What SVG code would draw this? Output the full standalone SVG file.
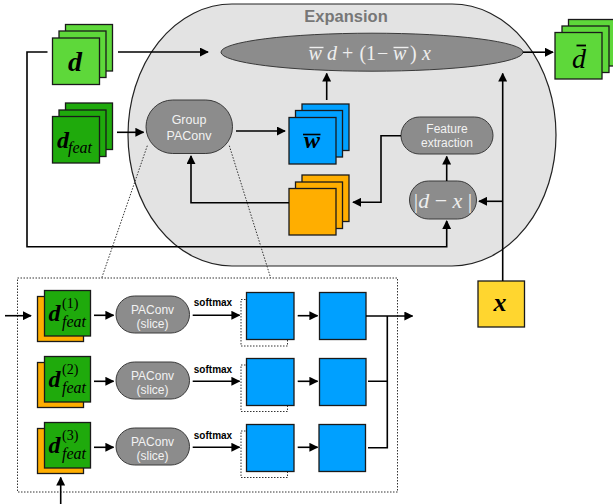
<svg xmlns="http://www.w3.org/2000/svg" width="613" height="504" viewBox="0 0 613 504">
<defs>
<marker id="ah" viewBox="0 0 10 10" refX="9" refY="5" markerWidth="9" markerHeight="9" markerUnits="userSpaceOnUse" orient="auto">
<path d="M0,0 L10,5 L0,10 z" fill="#000"/>
</marker>
<style>
.ln{fill:none;stroke:#000;stroke-width:1.6}
.dot{fill:none;stroke:#333;stroke-width:1;stroke-dasharray:1.5 1.5}
.sq{stroke:#1a1a1a;stroke-width:1.3}
.lg{fill:#5ed83a}
.dg{fill:#1faa0c}
.bl{fill:#00a0ff}
.or{fill:#ffae00}
.pill{fill:#8c8c8c;stroke:#3a3a3a;stroke-width:1}
.wt{font-family:"Liberation Sans",Arial,sans-serif;fill:#f2f2f2;text-anchor:middle}
.mth{font-family:"Liberation Serif","Times New Roman",serif;font-style:italic}
</style>
</defs>
<rect width="613" height="504" fill="#fff"/>

<g id="expansion">
<rect x="128" y="4" width="428" height="262" rx="104" ry="131" fill="#e3e3e3" stroke="#222" stroke-width="1.2"/>
<text x="346" y="22" font-family="Liberation Sans,Arial,sans-serif" font-weight="bold" font-size="16.5" fill="#777" text-anchor="middle">Expansion</text>
</g>

<g id="blend">
<ellipse cx="372" cy="52.2" rx="151" ry="19" class="pill"/>
<text class="mth" font-size="20" fill="#eee" y="60"><tspan x="308.5">w</tspan><tspan x="327">d</tspan><tspan x="342" font-style="normal">+</tspan><tspan x="359.5" font-style="normal">(</tspan><tspan x="366" font-style="normal">1</tspan><tspan x="377" font-style="normal">−</tspan><tspan x="393">w</tspan><tspan x="410" font-style="normal">)</tspan><tspan x="422">x</tspan></text>
<line x1="309.5" y1="47.5" x2="323.5" y2="47.5" stroke="#eee" stroke-width="1.4"/>
<line x1="393.5" y1="47.5" x2="408.5" y2="47.5" stroke="#eee" stroke-width="1.4"/>
</g>

<g id="d">
<rect x="65.5" y="24.5" width="47" height="46.5" class="sq lg"/>
<rect x="59" y="31" width="47" height="46.5" class="sq lg"/>
<rect x="52.5" y="38" width="47" height="46.5" class="sq lg"/>
<text x="75" y="71" class="mth" font-weight="bold" font-size="28" text-anchor="middle">d</text>
</g>

<g id="dfeat">
<rect x="65.5" y="103" width="47" height="46.5" class="sq dg"/>
<rect x="59" y="110" width="47" height="46.5" class="sq dg"/>
<rect x="52.5" y="116.5" width="47" height="46.5" class="sq dg"/>
<text class="mth" x="57" y="148" font-weight="bold" font-size="24">d</text>
<text class="mth" x="68" y="153" font-size="16">feat</text>
</g>

<g id="group_paconv">
<rect x="146" y="100" width="86.5" height="53.5" rx="26.7" class="pill"/>
<text class="wt" x="189" y="123.5" font-size="12.5">Group</text>
<text class="wt" x="189" y="140" font-size="12.5">PAConv</text>
</g>

<g id="wbar">
<rect x="302" y="104" width="47" height="46.5" class="sq bl"/>
<rect x="295.5" y="110.5" width="47" height="46.5" class="sq bl"/>
<rect x="289" y="117.5" width="47" height="46.5" class="sq bl"/>
<text class="mth" x="312" y="148" font-weight="bold" font-size="24" text-anchor="middle">w</text>
<line x1="303" y1="134.5" x2="320.5" y2="134.5" stroke="#000" stroke-width="1.6"/>
</g>

<g id="weights">
<rect x="302" y="175" width="47" height="46.5" class="sq or"/>
<rect x="295.5" y="182" width="47" height="46.5" class="sq or"/>
<rect x="289" y="188.5" width="47" height="46.5" class="sq or"/>
</g>

<g id="feature_extraction">
<rect x="401" y="117" width="92" height="37" rx="18.5" class="pill"/>
<text class="wt" x="447" y="132.5" font-size="12">Feature</text>
<text class="wt" x="447" y="147" font-size="12">extraction</text>
</g>

<g id="absdiff">
<rect x="409.5" y="181" width="67" height="38" rx="19" class="pill"/>
<text class="mth" x="443" y="207.5" font-size="22" fill="#eee" text-anchor="middle"><tspan font-style="normal">|</tspan>d <tspan font-style="normal">−</tspan> x <tspan font-style="normal">|</tspan></text>
</g>

<g id="dbar">
<rect x="568.5" y="19.5" width="47" height="46.5" class="sq lg"/>
<rect x="562" y="26" width="47" height="46.5" class="sq lg"/>
<rect x="555" y="32.5" width="47" height="46.5" class="sq lg"/>
<text class="mth" x="579" y="68" font-size="28" text-anchor="middle">d</text>
<line x1="576.5" y1="45.5" x2="586" y2="45.5" stroke="#000" stroke-width="1.8"/>
</g>

<g id="x">
<rect x="478" y="281" width="46.5" height="46" fill="#ffd62f" stroke="#1a1a1a" stroke-width="1.3"/>
<text class="mth" x="500" y="311" font-weight="bold" font-size="26" text-anchor="middle">x</text>
</g>

<g id="detail">
<rect x="17.5" y="278" width="380" height="214" class="dot"/>
</g>

<g id="row1">
<rect x="37.5" y="296.5" width="46" height="45" class="sq or"/>
<rect x="44.5" y="290.5" width="46" height="45.5" class="sq dg"/>
<text class="mth" x="48.5" y="321" font-weight="bold" font-size="24">d</text>
<text x="62" y="308" font-family="Liberation Serif,serif" font-size="14">(1)</text>
<text class="mth" x="62" y="327" font-size="16">feat</text>
<rect x="116" y="296" width="73.5" height="37" rx="18.5" class="pill"/>
<text class="wt" x="152.5" y="313.5" font-size="12">PAConv</text>
<text class="wt" x="152.5" y="327.5" font-size="12">(slice)</text>
<text x="213" y="306" font-family="Liberation Sans,Arial,sans-serif" font-weight="bold" font-size="10" text-anchor="middle">softmax</text>
<rect x="241" y="299.5" width="46.5" height="46.5" class="dot"/>
<rect x="246.5" y="292.5" width="47.5" height="47" class="sq bl"/>
<rect x="319.5" y="292.5" width="46.5" height="47" class="sq bl"/>
</g>

<g id="row2">
<rect x="37.5" y="362.5" width="46" height="45" class="sq or"/>
<rect x="44.5" y="356.5" width="46" height="45.5" class="sq dg"/>
<text class="mth" x="48.5" y="387" font-weight="bold" font-size="24">d</text>
<text x="62" y="374" font-family="Liberation Serif,serif" font-size="14">(2)</text>
<text class="mth" x="62" y="393" font-size="16">feat</text>
<rect x="116" y="362" width="73.5" height="37" rx="18.5" class="pill"/>
<text class="wt" x="152.5" y="379.5" font-size="12">PAConv</text>
<text class="wt" x="152.5" y="393.5" font-size="12">(slice)</text>
<text x="213" y="372.5" font-family="Liberation Sans,Arial,sans-serif" font-weight="bold" font-size="10" text-anchor="middle">softmax</text>
<rect x="241" y="365" width="46.5" height="46.5" class="dot"/>
<rect x="246.5" y="358.5" width="47.5" height="47" class="sq bl"/>
<rect x="319.5" y="358.5" width="46.5" height="47" class="sq bl"/>
</g>

<g id="row3">
<rect x="37.5" y="428.5" width="46" height="45" class="sq or"/>
<rect x="44.5" y="422.5" width="46" height="45.5" class="sq dg"/>
<text class="mth" x="48.5" y="453" font-weight="bold" font-size="24">d</text>
<text x="62" y="440" font-family="Liberation Serif,serif" font-size="14">(3)</text>
<text class="mth" x="62" y="459" font-size="16">feat</text>
<rect x="116" y="428" width="73.5" height="37" rx="18.5" class="pill"/>
<text class="wt" x="152.5" y="445.5" font-size="12">PAConv</text>
<text class="wt" x="152.5" y="459.5" font-size="12">(slice)</text>
<text x="213" y="438.5" font-family="Liberation Sans,Arial,sans-serif" font-weight="bold" font-size="10" text-anchor="middle">softmax</text>
<rect x="241" y="431" width="46.5" height="46.5" class="dot"/>
<rect x="246.5" y="424.5" width="47.5" height="47" class="sq bl"/>
<rect x="319" y="424.5" width="46.5" height="47" class="sq bl"/>
</g>

<g id="connectors">
<path class="ln" d="M118,52 H208" marker-end="url(#ah)"/>
<path class="ln" d="M47.5,52 H27 V246.7 H446.7 V221" marker-end="url(#ah)"/>
<path class="ln" d="M117,132.3 H143.5" marker-end="url(#ah)"/>
<path class="ln" d="M236,131 H285" marker-end="url(#ah)"/>
<path class="ln" d="M289,202.7 H191 V156" marker-end="url(#ah)"/>
<path class="ln" d="M326.7,100 V73.5" marker-end="url(#ah)"/>
<path class="ln" d="M401,135.7 H381 V202.3 H353" marker-end="url(#ah)"/>
<path class="ln" d="M446.7,181 V156.5" marker-end="url(#ah)"/>
<path class="ln" d="M502.7,201.3 H479" marker-end="url(#ah)"/>
<path class="ln" d="M502.7,281 V73.5" marker-end="url(#ah)"/>
<path class="ln" d="M523,52.2 H553" marker-end="url(#ah)"/>
<path class="dot" d="M147.3,145.7 L101.7,278"/>
<path class="dot" d="M229.3,145.7 L270.7,278"/>
<path class="ln" d="M5,315.7 H31" marker-end="url(#ah)"/>
<path class="ln" d="M60.7,504 V477.5" marker-end="url(#ah)"/>
<path class="ln" d="M94,315.3 H113.5" marker-end="url(#ah)"/>
<path class="ln" d="M94,381.3 H113.5" marker-end="url(#ah)"/>
<path class="ln" d="M94,447.3 H113.5" marker-end="url(#ah)"/>
<path class="ln" d="M192.7,315.3 H239.5" marker-end="url(#ah)"/>
<path class="ln" d="M192.7,381.3 H239.5" marker-end="url(#ah)"/>
<path class="ln" d="M192.7,447.3 H239.5" marker-end="url(#ah)"/>
<path class="ln" d="M297.7,315.7 H317.5" marker-end="url(#ah)"/>
<path class="ln" d="M297.7,381.3 H317.5" marker-end="url(#ah)"/>
<path class="ln" d="M297.7,447.3 H317.5" marker-end="url(#ah)"/>
<path class="ln" d="M366,316 H412.5" marker-end="url(#ah)"/>
<path class="ln" d="M368,381.3 H387.3 M368,447.7 H387.3 V316"/>
</g>
</svg>
